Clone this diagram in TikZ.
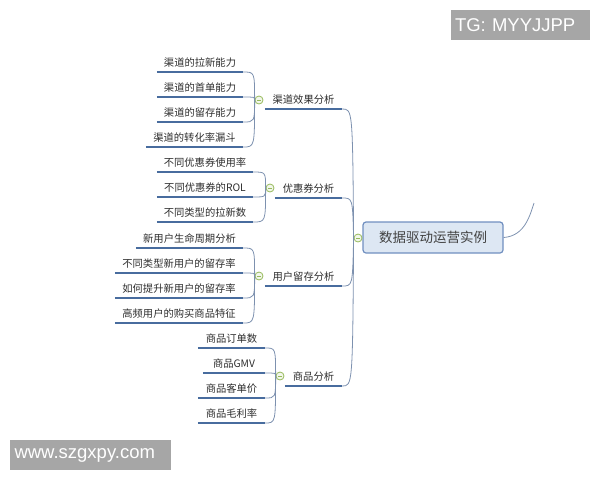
\documentclass[tikz,border=0pt]{standalone}
\usepackage{fontspec}
\newfontfamily\cjk{Noto Sans CJK SC}
\newfontfamily\wmfont{Liberation Sans}
\definecolor{lineblue}{RGB}{72,108,158}
\definecolor{twiggrey}{RGB}{125,145,175}
\definecolor{dotgreen}{RGB}{150,185,90}
\definecolor{rootfill}{RGB}{221,231,243}
\definecolor{rootdraw}{RGB}{112,143,192}
\definecolor{wmgrey}{RGB}{166,166,166}
\definecolor{txt}{RGB}{45,45,45}

\begin{document}
\begin{tikzpicture}[x=1pt,y=-1pt,
  leaf/.style={anchor=south,inner sep=0pt,text height=8pt,text depth=5pt,text=txt,
    font=\cjk\fontsize{10.3}{12}\selectfont},
  uline/.style={lineblue,line width=1.6pt},
  twig/.style={twiggrey,line width=0.8pt},
  dot/.style={circle,draw=dotgreen,fill=dotgreen!12,line width=0.8pt,minimum size=8pt,inner sep=0pt,
    path picture={\draw[dotgreen,line width=0.8pt] ([xshift=-2pt]path picture bounding box.center)
      -- ([xshift=2pt]path picture bounding box.center);}},
  wmark/.style={fill=wmgrey,text=white,font=\wmfont\fontsize{18.5}{20}\selectfont,
    align=left,inner ysep=0pt,minimum height=30pt}]
  \useasboundingbox (0,0) rectangle (600,480);

  % root
  \node[draw=rootdraw,fill=rootfill,line width=1.2pt,rounded corners=3pt,minimum width=140pt,
    minimum height=31pt,text=txt!90,font=\cjk\fontsize{13.5}{15}\selectfont] (root) at (433,237.5) {数据驱动运营实例};
  \coordinate (tail) at (534,203);
  \draw[twig] (root.east) .. controls (525,236) and (530,215) .. (tail);

  % topics
  \node[leaf,minimum width=77pt] (b1) at (303.5,109) {渠道效果分析};
  \node[leaf,minimum width=67pt] (b2) at (308.5,198) {优惠券分析};
  \node[leaf,minimum width=77pt] (b3) at (303.5,286) {用户留存分析};
  \node[leaf,minimum width=57pt] (b4) at (313.5,386) {商品分析};

  \node[leaf,minimum width=86pt] (c11) at (200,72) {渠道的拉新能力};
  \node[leaf,minimum width=86pt] (c12) at (200,97) {渠道的首单能力};
  \node[leaf,minimum width=86pt] (c13) at (200,122) {渠道的留存能力};
  \node[leaf,minimum width=97pt] (c14) at (194.5,147) {渠道的转化率漏斗};

  \node[leaf,minimum width=96pt] (c21) at (205,172) {不同优惠券使用率};
  \node[leaf,minimum width=96pt] (c22) at (205,197) {不同优惠券的ROL};
  \node[leaf,minimum width=96pt] (c23) at (205,222) {不同类型的拉新数};

  \node[leaf,minimum width=107pt] (c31) at (189.5,248) {新用户生命周期分析};
  \node[leaf,minimum width=128pt] (c32) at (179,273) {不同类型新用户的留存率};
  \node[leaf,minimum width=128pt] (c33) at (179,298) {如何提升新用户的留存率};
  \node[leaf,minimum width=128pt] (c34) at (179,323) {高频用户的购买商品特征};

  \node[leaf,minimum width=67pt] (c41) at (231.5,348) {商品订单数};
  \node[leaf,minimum width=62pt] (c42) at (234,373) {商品GMV};
  \node[leaf,minimum width=67pt] (c43) at (231.5,398) {商品客单价};
  \node[leaf,minimum width=67pt] (c44) at (231.5,423) {商品毛利率};

  \foreach \n in {b1,b2,b3,b4,c11,c12,c13,c14,c21,c22,c23,c31,c32,c33,c34,c41,c42,c43,c44}
    \draw[uline] (\n.south west) -- (\n.south east);

  % collapse dots
  \node[dot] (dr) at (358,238) {};
  \node[dot] (d1) at (259,100) {};
  \node[dot] (d2) at (270,188) {};
  \node[dot] (d3) at (259,276) {};
  \node[dot] (d4) at (280,376) {};

  \foreach \b in {b1,b2,b3,b4}
    \draw[twig] (dr.west) .. controls ([xshift=-1pt]dr.west |- \b.south east) .. (\b.south east);
  \foreach \c in {c11,c12,c13,c14}
    \draw[twig] (d1.west) .. controls (d1.west |- \c.south east) .. (\c.south east);
  \foreach \c in {c21,c22,c23}
    \draw[twig] (d2.west) .. controls (d2.west |- \c.south east) .. (\c.south east);
  \foreach \c in {c31,c32,c33,c34}
    \draw[twig] (d3.west) .. controls (d3.west |- \c.south east) .. (\c.south east);
  \foreach \c in {c41,c42,c43,c44}
    \draw[twig] (d4.west) .. controls (d4.west |- \c.south east) .. (\c.south east);

  % watermarks
  \node[wmark,text width=131pt,inner xsep=4pt] (tg) at (520.5,25) {TG: MYYJJPP};
  \node[wmark,text width=152pt,inner xsep=4.5pt] (www) at (90.5,455) {www.szgxpy.com};
\end{tikzpicture}
\end{document}
